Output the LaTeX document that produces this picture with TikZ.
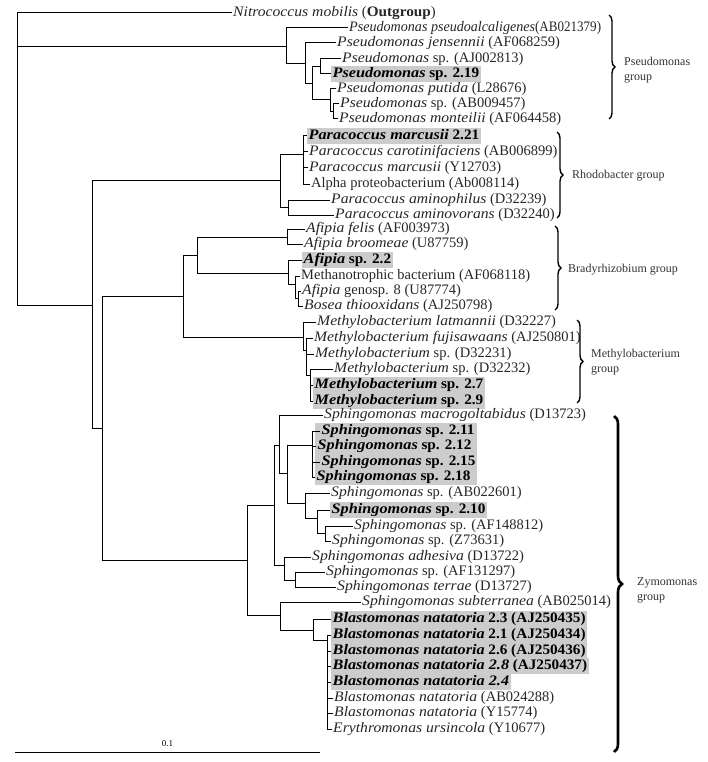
\documentclass[tikz,border=0pt]{standalone}
\usepackage{graphicx}
\usepackage{fontspec}
\setmainfont{Liberation Serif}
\newfontfamily\taxfamily{Liberation Serif}[ItalicFeatures={FakeStretch=1.08}, BoldItalicFeatures={FakeStretch=1.12}, BoldFeatures={FakeStretch=1.05}]
\usetikzlibrary{decorations.pathreplacing,fit,backgrounds}

\definecolor{hlgray}{gray}{0.8}
\newcommand{\taxfont}{\taxfamily\fontsize{14.5}{16}\selectfont}
\newcommand{\grpfont}{\fontsize{12}{15}\selectfont}
\newcommand{\gb}[1]{\textbf{\textit{#1}}}

\tikzset{
	taxon/.style={anchor=west, inner sep=1pt, font=\taxfont, text=black!85},
	member/.style={taxon, inner sep=1.5pt, text height=10pt, text depth=3.5pt, text=black},
	isolate/.style={member, fill=hlgray},
	branch/.style={line width=1pt},
	clade/.style={decorate, decoration={brace, amplitude=6pt}, line width=1.4pt},
	grouplabel/.style={anchor=west, align=left, inner sep=0pt, font=\grpfont, text=black!80}
}

\begin{document}
\begin{tikzpicture}[x=1pt, y=-1pt]
	\useasboundingbox (0,0) rectangle (707,762);

	\node[taxon] (nmob) at (232,13) {\textit{Nitrococcus mobilis} (\textbf{Outgroup})};
	\node[taxon] (ppse) at (348,28) {\scalebox{0.9}[1]{\textit{Pseudomonas pseudoalcaligenes}(AB021379)}};
	\node[taxon] (pjen) at (336,43) {\textit{Pseudomonas jensennii} (AF068259)};
	\node[taxon] (paj) at (341,59) {\textit{Pseudomonas} sp. (AJ002813)};
	\node[isolate] (p219) at (331,74) {\gb{Pseudomonas} \textbf{sp. 2.19}};
	\node[taxon] (pput) at (336,89) {\textit{Pseudomonas putida} (L28676)};
	\node[taxon] (pab) at (339,104) {\textit{Pseudomonas} sp. (AB009457)};
	\node[taxon] (pmon) at (338,119) {\textit{Pseudomonas monteilii} (AF064458)};

	\node[isolate] (pm221) at (307,136) {\gb{Paracoccus marcusii} \textbf{2.21}};
	\node[taxon] (pcar) at (308,152) {\textit{Paracoccus carotinifaciens} (AB006899)};
	\node[taxon] (pmar) at (308,168) {\textit{Paracoccus marcusii} (Y12703)};
	\node[taxon] (alpha) at (310,184) {Alpha proteobacterium (Ab008114)};
	\node[taxon] (pamp) at (330,200) {\textit{Paracoccus aminophilus} (D32239)};
	\node[taxon] (pamv) at (334,215) {\textit{Paracoccus aminovorans} (D32240)};

	\node[taxon] (afel) at (305,229) {\textit{Afipia felis} (AF003973)};
	\node[taxon] (abro) at (303,244) {\textit{Afipia broomeae} (U87759)};
	\node[isolate] (a22) at (302,260) {\gb{Afipia} \textbf{sp. 2.2}};
	\node[taxon] (meth) at (300,276) {Methanotrophic bacterium (AF068118)};
	\node[taxon] (agen) at (301,291) {\textit{Afipia} genosp. 8 (U87774)};
	\node[taxon] (bos) at (303,306) {\textit{Bosea thiooxidans} (AJ250798)};

	\node[taxon] (mlat) at (316,322) {\textit{Methylobacterium latmannii} (D32227)};
	\node[taxon] (mfuj) at (313,338) {\textit{Methylobacterium fujisawaans} (AJ250801)};
	\node[taxon] (m31) at (314,354) {\textit{Methylobacterium} sp. (D32231)};
	\node[taxon] (m32) at (333,369) {\textit{Methylobacterium} sp. (D32232)};
	\node[isolate] (m27) at (313,385) {\gb{Methylobacterium} \textbf{sp. 2.7}};
	\node[isolate] (m29) at (313,401) {\gb{Methylobacterium} \textbf{sp. 2.9}};

	\node[taxon] (smac) at (323,415) {\textit{Sphingomonas macrogoltabidus} (D13723)};
	\node[member] (s211) at (320,431) {\gb{Sphingomonas} \textbf{sp. 2.11}};
	\node[member] (s212) at (316,446) {\gb{Sphingomonas} \textbf{sp. 2.12}};
	\node[member] (s215) at (320,462) {\gb{Sphingomonas} \textbf{sp. 2.15}};
	\node[member] (s218) at (315,477) {\gb{Sphingomonas} \textbf{sp. 2.18}};
	\node[taxon] (sab) at (330,493) {\textit{Sphingomonas} sp. (AB022601)};
	\node[isolate] (s210) at (330,510) {\gb{Sphingomonas} \textbf{sp. 2.10}};
	\node[taxon] (saf) at (353,526) {\textit{Sphingomonas} sp. (AF148812)};
	\node[taxon] (sz) at (331,541) {\textit{Sphingomonas} sp. (Z73631)};
	\node[taxon] (sadh) at (311,557) {\textit{Sphingomonas adhesiva} (D13722)};
	\node[taxon] (saf13) at (325,572) {\textit{Sphingomonas} sp. (AF131297)};
	\node[taxon] (ster) at (336,587) {\textit{Sphingomonas terrae} (D13727)};
	\node[taxon] (ssub) at (361,602) {\textit{Sphingomonas subterranea} (AB025014)};

	\node[isolate] (b23) at (331,619) {\gb{Blastomonas natatoria} \textbf{2.3 (AJ250435)}};
	\node[isolate] (b21) at (331,635) {\gb{Blastomonas natatoria} \textbf{2.1 (AJ250434)}};
	\node[isolate] (b26) at (331,651) {\gb{Blastomonas natatoria} \textbf{2.6 (AJ250436)}};
	\node[isolate] (b28) at (331,666) {\gb{Blastomonas natatoria 2.8} \textbf{(AJ250437)}};
	\node[isolate] (b24) at (331,682) {\gb{Blastomonas natatoria 2.4}};
	\node[taxon] (bab) at (333,698) {\textit{Blastomonas natatoria} (AB024288)};
	\node[taxon] (by) at (333,713) {\textit{Blastomonas natatoria} (Y15774)};
	\node[taxon] (ery) at (332,729) {\textit{Erythromonas ursincola} (Y10677)};

	\begin{scope}[on background layer]
		\node[fill=hlgray, inner sep=0pt, fit=(s211)(s212)(s215)(s218)] (sbox) {};
	\end{scope}

	\coordinate (root) at (17,159);
	\coordinate (P1) at (286,47);
	\coordinate (P2) at (305,64);
	\coordinate (P3) at (312,84);
	\coordinate (P4) at (320,67);
	\coordinate (P5) at (330,100);
	\coordinate (P6) at (333,112);
	\coordinate (A) at (92,305);
	\coordinate (R) at (280,180);
	\coordinate (Rp) at (303,155);
	\coordinate (R2) at (288,207);
	\coordinate (B) at (102,428);
	\coordinate (C) at (183,296);
	\coordinate (D) at (197,255);
	\coordinate (Af) at (287,237);
	\coordinate (E) at (288,273);
	\coordinate (F) at (295,284);
	\coordinate (G) at (298,298);
	\coordinate (M1) at (303,337);
	\coordinate (M2) at (306,350);
	\coordinate (M3) at (310,375);
	\coordinate (Z) at (247,560);
	\coordinate (Zt) at (274,505);
	\coordinate (S1) at (279,445);
	\coordinate (S2) at (287,473);
	\coordinate (Sg) at (312,445);
	\coordinate (S3) at (305,503);
	\coordinate (S4) at (317,518);
	\coordinate (S5) at (325,533);
	\coordinate (Ad) at (284,565);
	\coordinate (Ad2) at (295,580);
	\coordinate (Bt) at (280,615);
	\coordinate (Bl) at (313,630);
	\coordinate (Bp) at (327,640);

	\draw[branch] (root) |- (nmob.west) (root) |- (P1) (root) |- (A);
	\draw[branch] (P1) |- (ppse.west) (P1) |- (P2);
	\draw[branch] (P2) |- (pjen.west) (P2) |- (P3);
	\draw[branch] (P3) |- (P4) (P3) |- (P5);
	\draw[branch] (P4) |- (paj.west) (P4) |- (p219.west);
	\draw[branch] (P5) |- (pput.west) (P5) |- (P6);
	\draw[branch] (P6) |- (pab.west) (P6) |- (pmon.west);

	\draw[branch] (A) |- (R) (A) |- (B);
	\draw[branch] (R) |- (Rp) (R) |- (R2);
	\draw[branch] (Rp) |- (pm221.west) (Rp) |- (pcar.west) (Rp) |- (pmar.west) (Rp) |- (alpha.west);
	\draw[branch] (R2) |- (pamp.west) (R2) |- (pamv.west);

	\draw[branch] (B) |- (C) (B) |- (Z);
	\draw[branch] (C) |- (D) (C) |- (M1);
	\draw[branch] (D) |- (Af) (D) |- (E);
	\draw[branch] (Af) |- (afel.west) (Af) |- (abro.west);
	\draw[branch] (E) |- (a22.west) (E) |- (F);
	\draw[branch] (F) |- (meth.west) (F) |- (G);
	\draw[branch] (G) |- (agen.west) (G) |- (bos.west);

	\draw[branch] (M1) |- (mlat.west) (M1) |- (M2);
	\draw[branch] (M2) |- (mfuj.west) (M2) |- (m31.west) (M2) |- (M3);
	\draw[branch] (M3) |- (m32.west) (M3) |- (m27.west) (M3) |- (m29.west);

	\draw[branch] (Z) |- (Zt) (Z) |- (Bt);
	\draw[branch] (Zt) |- (S1) (Zt) |- (Ad);
	\draw[branch] (S1) |- (smac.west) (S1) |- (S2);
	\draw[branch] (S2) |- (Sg) (S2) |- (S3);
	\draw[branch] (Sg) |- (s211.west) (Sg) |- (s212.west) (Sg) |- (s215.west) (Sg) |- (s218.west);
	\draw[branch] (S3) |- (sab.west) (S3) |- (S4);
	\draw[branch] (S4) |- (s210.west) (S4) |- (S5);
	\draw[branch] (S5) |- (saf.west) (S5) |- (sz.west);
	\draw[branch] (Ad) |- (sadh.west) (Ad) |- (Ad2);
	\draw[branch] (Ad2) |- (saf13.west) (Ad2) |- (ster.west);
	\draw[branch] (Bt) |- (ssub.west) (Bt) |- (Bl);
	\draw[branch] (Bl) |- (b23.west) (Bl) |- (Bp);
	\draw[branch] (Bp) |- (b21.west) (Bp) |- (b26.west) (Bp) |- (b28.west) (Bp) |- (b24.west)
		(Bp) |- (bab.west) (Bp) |- (by.west) (Bp) |- (ery.west);

	\draw[clade] (609,15) -- (609,119);
	\node[grouplabel] (gpse) at (624,70) {Pseudomonas\\group};
	\draw[clade] (557,132) -- (557,218);
	\node[grouplabel] (grho) at (572,176) {Rhodobacter group};
	\draw[clade] (555,226) -- (555,310);
	\node[grouplabel] (gbra) at (568,270) {Bradyrhizobium group};
	\draw[clade] (577,320) -- (577,403);
	\node[grouplabel] (gmet) at (591,362) {Methylobacterium\\group};
	\draw[clade, line width=2.6pt, decoration={amplitude=8pt}] (614,416) -- (614,752);
	\node[grouplabel] (gzym) at (637,590) {Zymomonas\\group};

	\coordinate (sb0) at (15,752);
	\coordinate (sb1) at (320,752);
	\draw[branch] (sb0) -- (sb1) node[midway, above=2pt, font=\fontsize{9}{10}\selectfont] (sbl) {0.1};
\end{tikzpicture}
\end{document}
